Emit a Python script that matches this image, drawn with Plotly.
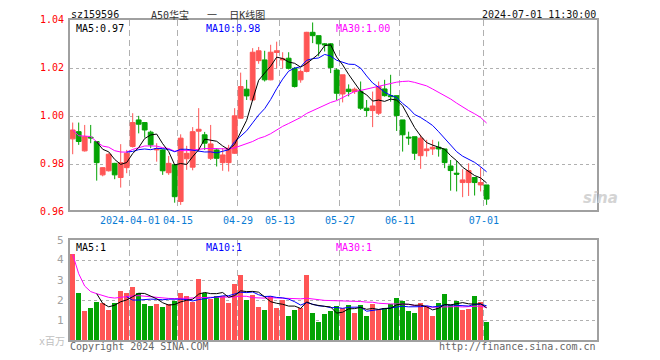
import pandas as pd
import plotly.graph_objects as go

# page body has an 8px margin: the figure is sized/placed so that the chart lands on the 660x360 window
OFF = 8
W, H = 660 - OFF, 360 - OFF
MONO = "DejaVu Sans Mono"
CJK = "DejaVu Sans Mono, Noto Sans CJK SC"

# ---------------- data ----------------
holidays = ["2024-04-04", "2024-04-05", "2024-05-01", "2024-05-02", "2024-05-03", "2024-06-10"]
dates = [d.strftime("%Y-%m-%d") for d in pd.bdate_range("2024-03-18", "2024-07-01")
         if d.strftime("%Y-%m-%d") not in holidays]

open_ = [0.9906, 0.9936, 0.9856, 0.9913, 0.9895, 0.9756, 0.9773, 0.9804, 0.9745, 0.9786,
         0.9874, 0.9985, 0.9974, 0.9934, 0.9860, 0.9860, 0.9765, 0.9798, 0.9645, 0.9823,
         0.9788, 0.9938, 0.9923, 0.9825, 0.9860, 0.9807, 0.9807, 0.9846, 0.9992, 1.0113,
         1.0068, 1.0232, 1.0235, 1.0152, 1.0266, 1.0235, 1.0242, 1.0200, 1.0152, 1.0187,
         1.0350, 1.0336, 1.0302, 1.0302, 1.0193, 1.0093, 1.0113, 1.0103, 1.0103, 1.0034,
         1.0024, 1.0013, 1.0114, 1.0086, 1.0086, 0.9985, 0.9913, 0.9915, 0.9836, 0.9857,
         0.9864, 0.9871, 0.9864, 0.9793, 0.9763, 0.9724, 0.9724, 0.9745, 0.9714, 0.9714]
close = [0.9943, 0.9895, 0.9915, 0.9910, 0.9807, 0.9786, 0.9842, 0.9756, 0.9807, 0.9846,
         0.9974, 0.9967, 0.9943, 0.9881, 0.9865, 0.9773, 0.9804, 0.9665, 0.9909, 0.9846,
         0.9936, 0.9946, 0.9888, 0.9885, 0.9825, 0.9839, 0.9867, 1.0002, 1.0124, 1.0085,
         1.0267, 1.0273, 1.0152, 1.0267, 1.0273, 1.0240, 1.0200, 1.0124, 1.0187, 1.0350,
         1.0336, 1.0302, 1.0298, 1.0203, 1.0096, 1.0173, 1.0103, 1.0113, 1.0034, 1.0024,
         1.0043, 1.0124, 1.0086, 1.0082, 1.0003, 0.9923, 0.9910, 0.9846, 0.9909, 0.9864,
         0.9871, 0.9864, 0.9807, 0.9774, 0.9759, 0.9735, 0.9774, 0.9724, 0.9724, 0.9655]
high = [0.9974, 0.9974, 0.9964, 0.9964, 0.9897, 0.9788, 0.9846, 0.9806, 0.9884, 0.9860,
        1.0013, 1.0002, 0.9976, 0.9940, 0.9888, 0.9862, 0.9835, 0.9800, 0.9925, 0.9877,
        0.9955, 1.0034, 0.9935, 0.9964, 0.9867, 0.9867, 0.9881, 1.0034, 1.0182, 1.0152,
        1.0284, 1.0289, 1.0273, 1.0298, 1.0311, 1.0267, 1.0267, 1.0205, 1.0195, 1.0352,
        1.0391, 1.0336, 1.0305, 1.0305, 1.0200, 1.0173, 1.0133, 1.0120, 1.0145, 1.0068,
        1.0103, 1.0145, 1.0152, 1.0173, 1.0086, 0.9985, 0.9936, 0.9915, 0.9923, 0.9902,
        0.9902, 0.9895, 0.9864, 0.9818, 0.9815, 0.9780, 0.9804, 0.9745, 0.9787, 0.9714]
low = [0.9842, 0.9881, 0.9853, 0.9888, 0.9732, 0.9750, 0.9770, 0.9738, 0.9703, 0.9763,
       0.9870, 0.9929, 0.9911, 0.9867, 0.9811, 0.9756, 0.9756, 0.9640, 0.9631, 0.9777,
       0.9775, 0.9853, 0.9860, 0.9818, 0.9791, 0.9773, 0.9770, 0.9843, 0.9990, 1.0068,
       1.0065, 1.0219, 1.0145, 1.0150, 1.0200, 1.0200, 1.0195, 1.0120, 1.0140, 1.0183,
       1.0305, 1.0250, 1.0270, 1.0180, 1.0068, 1.0058, 1.0083, 1.0093, 1.0027, 0.9999,
       0.9955, 1.0005, 1.0082, 1.0061, 0.9939, 0.9853, 0.9881, 0.9818, 0.9781, 0.9832,
       0.9839, 0.9832, 0.9784, 0.9690, 0.9687, 0.9663, 0.9668, 0.9670, 0.9687, 0.9631]
volume = [4.28, 2.35, 1.46, 1.59, 1.90, 1.85, 1.50, 1.85, 2.46, 2.36,
          2.65, 2.36, 1.80, 1.70, 1.80, 1.65, 1.78, 1.95, 2.35, 2.20,
          1.92, 3.05, 2.37, 2.05, 2.20, 2.20, 1.85, 2.80, 3.25, 2.00,
          2.25, 1.65, 1.50, 2.18, 1.60, 2.00, 1.20, 1.50, 1.58, 3.25,
          1.35, 0.92, 1.30, 1.45, 1.70, 1.58, 1.75, 1.37, 1.75, 1.22,
          1.80, 1.50, 1.62, 1.78, 2.12, 1.97, 1.45, 1.35, 1.85, 1.68,
          1.20, 1.85, 2.30, 1.75, 1.95, 1.50, 1.55, 2.20, 1.88, 0.92]

tick_dates = ["2024-04-01", "2024-04-15", "2024-04-29", "2024-05-13", "2024-05-27", "2024-06-11", "2024-07-01"]
tick_text = ["2024-04-01", "04-15", "04-29", "05-13", "05-27", "06-11", "07-01"]
price_ticks = [0.96, 0.98, 1.00, 1.02, 1.04]
vol_ticks = [1, 2, 3, 4, 5]

# ---------------- derived ----------------
RED, GREEN = "#ff5555", "#04a304"
x = list(range(len(dates)))
cs = pd.Series(close)
vs = pd.Series(volume)
ma5, ma10, ma30 = cs.rolling(5).mean(), cs.rolling(10).mean(), cs.rolling(30, min_periods=1).mean()
vma5, vma10, vma30 = vs.rolling(5).mean(), vs.rolling(10).mean(), vs.rolling(30, min_periods=1).mean()
vcolors = [RED if c >= o else GREEN for o, c in zip(open_, close)]
tickpos = [dates.index(d) - 0.45 for d in tick_dates]


def px_x(xr):  # window pixel -> paper fraction
    return (xr - OFF) / W


def px_y(yr):
    return 1 - (yr - OFF) / H


XR = [-0.45, 87.4]
PR = [0.96096, 1.04013]
PD = [px_y(210), px_y(20)]
VR = [0, 5]
VD = [px_y(340), px_y(240)]
XD = [px_x(70), px_x(597)]

fig = go.Figure()
fig.add_trace(go.Candlestick(
    x=x, open=open_, high=high, low=low, close=close,
    increasing=dict(line=dict(color=RED, width=1), fillcolor=RED),
    decreasing=dict(line=dict(color=GREEN, width=1), fillcolor=GREEN),
    whiskerwidth=0, hoverinfo="skip", xaxis="x", yaxis="y"))
for s, col in [(ma30, "#ff00ff"), (ma10, "#0000ff"), (ma5, "#000000")]:
    fig.add_trace(go.Scatter(x=x, y=s, mode="lines", line=dict(color=col, width=1),
                             hoverinfo="skip", xaxis="x", yaxis="y"))
fig.add_trace(go.Bar(x=x, y=volume, marker=dict(color=vcolors, line=dict(width=0)), width=0.8,
                     hoverinfo="skip", xaxis="x2", yaxis="y2"))
for s, col in [(vma30, "#ff00ff"), (vma10, "#0000ff"), (vma5, "#000000")]:
    fig.add_trace(go.Scatter(x=x, y=s, mode="lines", line=dict(color=col, width=1),
                             hoverinfo="skip", xaxis="x2", yaxis="y2"))

GRID = "#b0b0b0"
BORDER = "#a0a0a0"
xcommon = dict(domain=XD, range=XR, tickvals=tickpos, showgrid=True, gridcolor=GRID,
               griddash="6px,4px", gridwidth=1, zeroline=False, showline=True, mirror=True,
               linecolor=BORDER, linewidth=2, ticks="", fixedrange=True)
fig.update_layout(
    width=W, height=H, margin=dict(l=0, r=0, t=0, b=0),
    paper_bgcolor="white", plot_bgcolor="white", showlegend=False,
    boxgap=0.2, boxgroupgap=0, bargap=0,
    xaxis=dict(**xcommon, anchor="y", ticktext=tick_text,
               tickfont=dict(family=MONO, size=10, color="#0a7cd4"),
               rangeslider=dict(visible=False)),
    yaxis=dict(domain=PD, range=PR, tickvals=price_ticks[1:4], showticklabels=False,
               showgrid=True, gridcolor=GRID, griddash="dot", zeroline=False,
               showline=True, mirror=True, linecolor=BORDER, linewidth=2, ticks="", anchor="x"),
    xaxis2=dict(**xcommon, anchor="y2", matches="x", showticklabels=False),
    yaxis2=dict(domain=VD, range=VR, tickvals=vol_ticks[:4], showticklabels=False,
                showgrid=True, gridcolor=GRID, griddash="dot", zeroline=False,
                showline=True, mirror=True, linecolor=BORDER, linewidth=2, ticks="", anchor="x2"),
)


def ann(text, xr, yr, color, size=10, xanchor="left", family=MONO, yanchor="middle", **kw):
    return dict(text=text, x=px_x(xr), y=px_y(yr), xref="paper", yref="paper",
                xanchor=xanchor, yanchor=yanchor, showarrow=False, borderpad=0,
                font=dict(family=family, size=size, color=color, **kw))


def axis_paper(v, r, d):
    return d[0] + (v - r[0]) / (r[1] - r[0]) * (d[1] - d[0])


anns = [
    ann("sz159596", 70, OFF, "#111", yanchor="top"),
    ann("A50华宝\u00a0\u00a0\u00a0一\u00a0\u00a0日K线图", 150, OFF, "#333", size=10, family=CJK, yanchor="top"),
    ann("2024-07-01 11:30:00", 597, OFF, "#111", xanchor="right", yanchor="top"),
    ann(f"MA5:{ma5.iloc[-1]:.2f}", 75, 28.5, "#000"),
    ann(f"MA10:{ma10.iloc[-1]:.2f}", 205, 28.5, "#0000ff"),
    ann(f"MA30:{ma30.iloc[-1]:.2f}", 335, 28.5, "#ff00ff"),
    ann("MA5:1", 75, 247, "#000"),
    ann("MA10:1", 205, 247, "#0000ff"),
    ann("MA30:1", 335, 247, "#ff00ff"),
    ann("x百万", 66, 341, "#c0c0c0", xanchor="right", family=CJK),
    ann("Copyright 2024 SINA.COM", 69, 346, "#666"),
    ann("http://finance.sina.com.cn", 597, 346, "#666", xanchor="right"),
    ann("sina", 582, 198, "#d4d4d4", size=15, family="DejaVu Sans", style="italic", weight="bold"),
]
for v in price_ticks:
    anns.append(dict(text=f"{v:.2f}", x=px_x(66), y=axis_paper(v, PR, PD) + 1 / H, xref="paper", yref="paper",
                     xanchor="right", yanchor="middle", showarrow=False,
                     font=dict(family=MONO, size=10, color="#ff0000")))
for v in vol_ticks:
    anns.append(dict(text=str(v), x=px_x(66), y=axis_paper(v, VR, VD), xref="paper", yref="paper",
                     xanchor="right", yanchor="middle", showarrow=False,
                     font=dict(family=MONO, size=11, color="#a0a0a0")))
fig.update_layout(annotations=anns)

fig.write_html("out.html")
